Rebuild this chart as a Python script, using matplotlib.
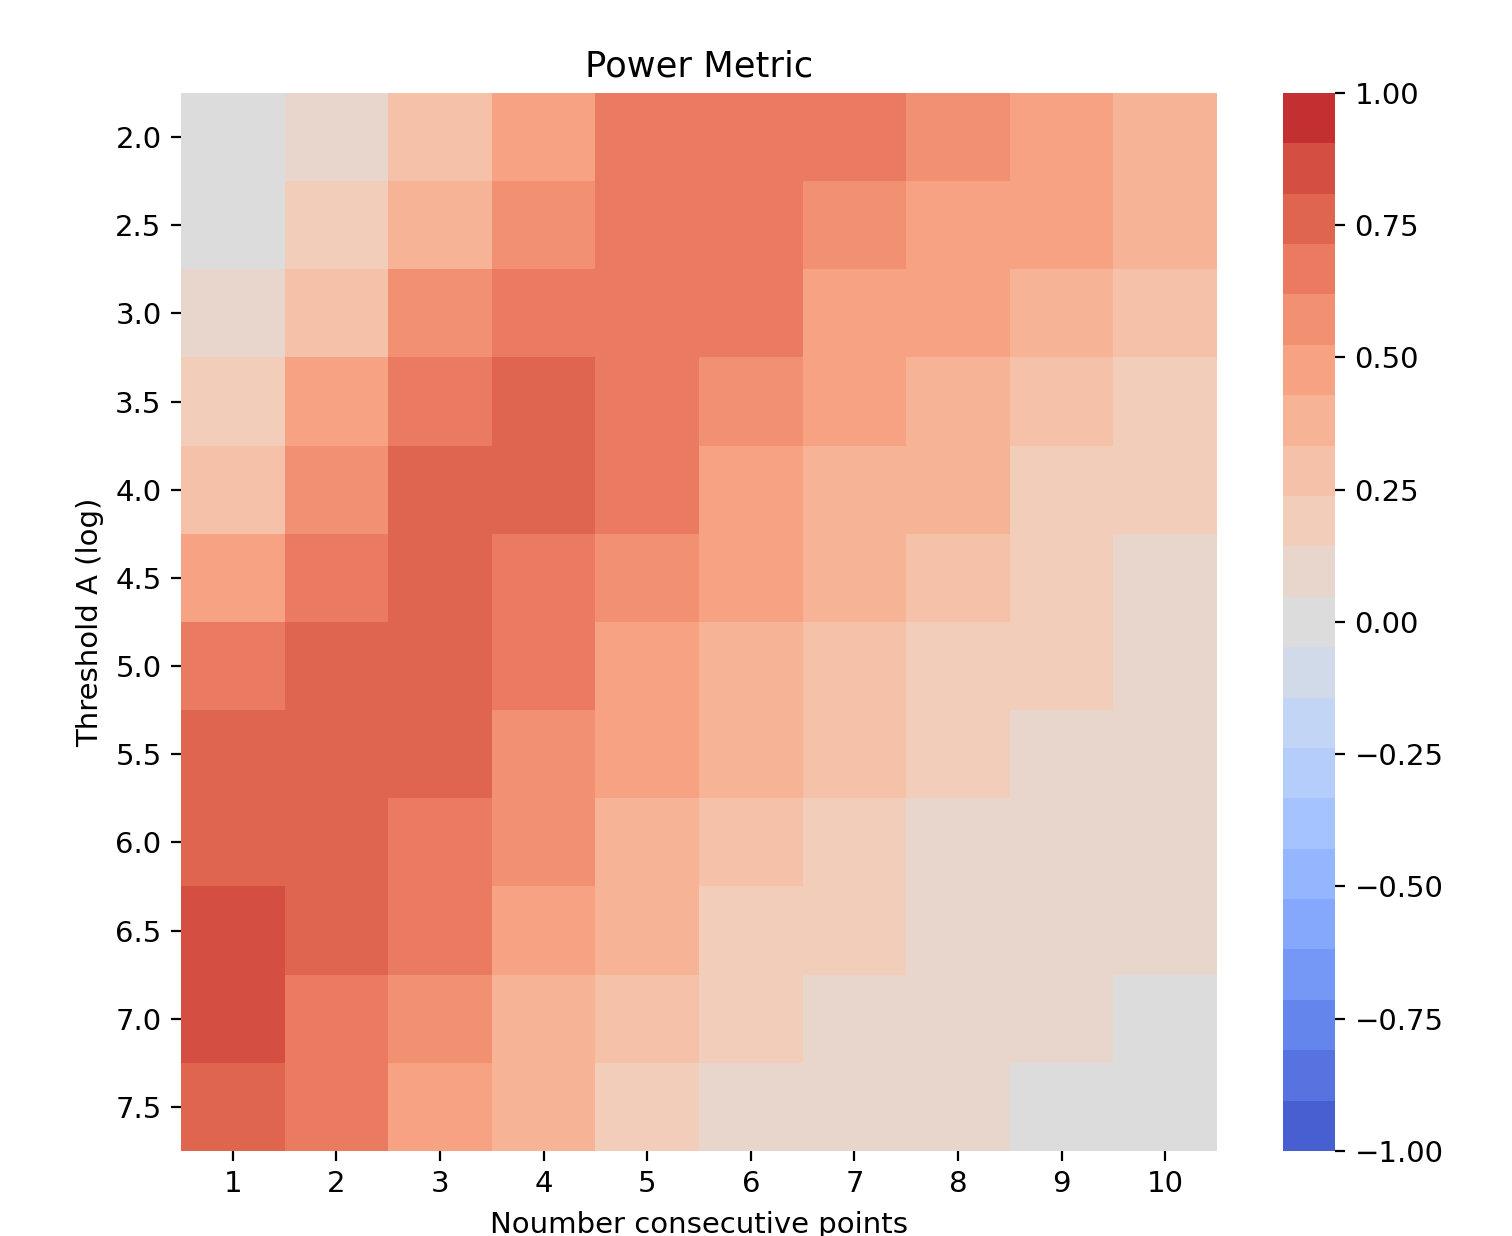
import numpy as np
import matplotlib
matplotlib.use("Agg")
import matplotlib.pyplot as plt
from matplotlib.colors import ListedColormap, Normalize

# data
thresholds = ["2.0", "2.5", "3.0", "3.5", "4.0", "4.5", "5.0", "5.5", "6.0", "6.5", "7.0", "7.5"]
n_points = ["1", "2", "3", "4", "5", "6", "7", "8", "9", "10"]

row_20 = [0.00, 0.10, 0.29, 0.48, 0.67, 0.67, 0.67, 0.57, 0.48, 0.38]
row_25 = [0.00, 0.19, 0.38, 0.57, 0.67, 0.67, 0.57, 0.48, 0.48, 0.38]
row_30 = [0.10, 0.29, 0.57, 0.67, 0.67, 0.67, 0.48, 0.48, 0.38, 0.29]
row_35 = [0.19, 0.48, 0.67, 0.76, 0.67, 0.57, 0.48, 0.38, 0.29, 0.19]
row_40 = [0.29, 0.57, 0.76, 0.76, 0.67, 0.48, 0.38, 0.38, 0.19, 0.19]
row_45 = [0.48, 0.67, 0.76, 0.67, 0.57, 0.48, 0.38, 0.29, 0.19, 0.10]
row_50 = [0.67, 0.76, 0.76, 0.67, 0.48, 0.38, 0.29, 0.19, 0.19, 0.10]
row_55 = [0.76, 0.76, 0.76, 0.57, 0.48, 0.38, 0.29, 0.19, 0.10, 0.10]
row_60 = [0.76, 0.76, 0.67, 0.57, 0.38, 0.29, 0.19, 0.10, 0.10, 0.10]
row_65 = [0.86, 0.76, 0.67, 0.48, 0.38, 0.19, 0.19, 0.10, 0.10, 0.10]
row_70 = [0.86, 0.67, 0.57, 0.38, 0.29, 0.19, 0.10, 0.10, 0.10, 0.00]
row_75 = [0.76, 0.67, 0.48, 0.38, 0.19, 0.10, 0.10, 0.10, 0.00, 0.00]

data = np.array([row_20, row_25, row_30, row_35, row_40, row_45,
                 row_50, row_55, row_60, row_65, row_70, row_75])

plt.rcParams["font.size"] = 10.5

# discrete coolwarm, 21 colours (same sampling seaborn's color_palette uses)
cmap = ListedColormap(plt.get_cmap("coolwarm")(np.linspace(0, 1, 23)[1:-1]))
norm = Normalize(vmin=-1, vmax=1)

fig = plt.figure(figsize=(7.56, 6.18), dpi=200)
ax = fig.add_axes([0.1197, 0.0688, 0.6852, 0.856])
cax = fig.add_axes([0.8485, 0.0688, 0.0344, 0.856])

mesh = ax.pcolormesh(data, cmap=cmap, norm=norm)
ax.set_xlim(0, data.shape[1])
ax.set_ylim(data.shape[0], 0)
ax.set_xticks(np.arange(data.shape[1]) + 0.5)
ax.set_xticklabels(n_points)
ax.set_yticks(np.arange(data.shape[0]) + 0.5)
ax.set_yticklabels(thresholds, rotation=0)
for s in ax.spines.values():
    s.set_visible(False)

ax.set_title("Power Metric", fontsize=12.7)
ax.set_xlabel("Noumber consecutive points", labelpad=4.5)
ax.set_ylabel("Threshold A (log)")

cb = fig.colorbar(mesh, cax=cax)
cb.set_ticks([-1, -0.75, -0.5, -0.25, 0, 0.25, 0.5, 0.75, 1])
cb.ax.set_yticklabels(["\u22121.00", "\u22120.75", "\u22120.50", "\u22120.25",
                       "0.00", "0.25", "0.50", "0.75", "1.00"])
cb.outline.set_visible(False)

fig.savefig("out.png", dpi=200)
